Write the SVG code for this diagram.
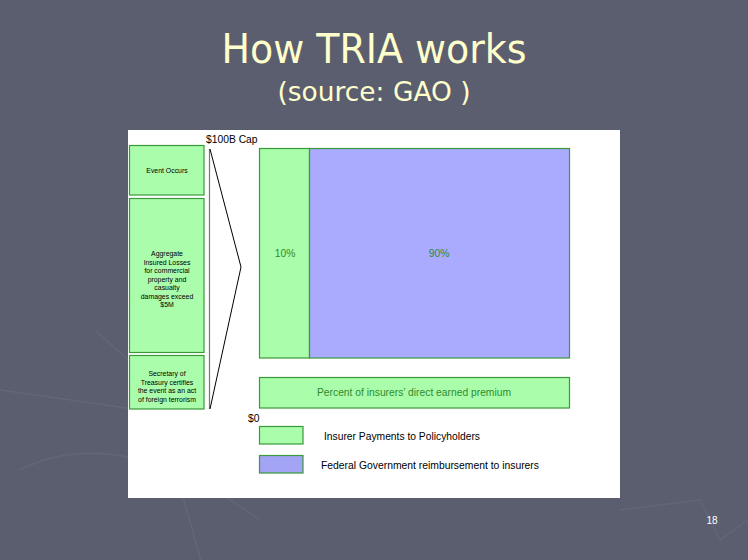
<svg xmlns="http://www.w3.org/2000/svg" width="748" height="560" viewBox="0 0 748 560">
<style>
.g{fill:#aafdaa;stroke:#3a9a3a;stroke-width:1.2}
.b{fill:#aaaaff;stroke:#3a9a3a;stroke-width:1.2}
.s{font-family:"Liberation Sans",Arial,sans-serif;font-size:6.9px;fill:#000;text-anchor:middle}
.m{font-family:"Liberation Sans",Arial,sans-serif;font-size:10.3px;fill:#000}
.gt{font-family:"Liberation Sans",Arial,sans-serif;font-size:10.3px;fill:#2e8b2e;text-anchor:middle}
.t{font-family:"DejaVu Sans Condensed","DejaVu Sans",sans-serif;fill:#ffffcc;text-anchor:middle}
</style>
<rect width="748" height="560" fill="#5b5e6f"/>
<g fill="none" stroke="#636676" stroke-width="1.5">
<path d="M95 330 L150 380 L215 610"/>
<path d="M20 470 Q120 420 260 520"/>
<path d="M0 390 L140 410"/>
<path d="M620 510 L700 500 L720 540 L748 520"/>
</g>
<g id="title">
<text class="t" x="374" y="63" font-size="40" textLength="305" lengthAdjust="spacingAndGlyphs">How TRIA works</text>
<text class="t" x="374" y="101" font-size="27" textLength="193" lengthAdjust="spacingAndGlyphs">(source: GAO )</text>
</g>
<rect x="128" y="130" width="492" height="368" fill="#ffffff"/>
<g id="event">
<rect class="g" x="129.5" y="145.5" width="74.5" height="49.5"/>
<text class="s" x="167" y="173">Event Occurs</text>
</g>
<g id="aggregate">
<rect class="g" x="129.5" y="198.5" width="74.5" height="154"/>
<text class="s"><tspan x="167" y="256">Aggregate</tspan><tspan x="167" y="264.5">Insured Losses</tspan><tspan x="167" y="273">for commercial</tspan><tspan x="167" y="281.5">property and</tspan><tspan x="167" y="290">casualty</tspan><tspan x="167" y="298.5">damages exceed</tspan><tspan x="167" y="307">$5M</tspan></text>
</g>
<g id="secretary">
<rect class="g" x="129.5" y="355.5" width="74.5" height="53.5"/>
<text class="s"><tspan x="167" y="376">Secretary of</tspan><tspan x="167" y="384.5">Treasury certifies</tspan><tspan x="167" y="393">the event as an act</tspan><tspan x="167" y="401.5">of foreign terrorism</tspan></text>
</g>
<g id="connectors" fill="none">
<line x1="209.5" y1="149" x2="209.5" y2="409" stroke="#777777" stroke-width="1.2"/>
<polyline points="210,149 241,267 210,409" stroke="#000" stroke-width="1"/>
</g>
<g id="cap"><text class="m" x="206" y="143">$100B Cap</text></g>
<g id="zero"><text class="m" x="248" y="422">$0</text></g>
<g id="insurer10">
<rect class="g" x="259.5" y="148.5" width="50" height="209.5"/>
<text class="gt" x="285" y="257">10%</text>
</g>
<g id="federal90">
<rect class="b" x="309.5" y="148.5" width="260" height="209.5"/>
<text class="gt" x="439" y="257">90%</text>
</g>
<g id="premium">
<rect class="g" x="259.5" y="377.5" width="310" height="30.5"/>
<text class="gt" x="414" y="396" textLength="194" lengthAdjust="spacingAndGlyphs">Percent of insurers’ direct earned premium</text>
</g>
<g id="legend-green">
<rect class="g" x="259.5" y="426.5" width="43.5" height="17.5"/>
<text class="m" x="324" y="440" textLength="156" lengthAdjust="spacingAndGlyphs">Insurer Payments to Policyholders</text>
</g>
<g id="legend-blue">
<rect class="b" x="259.5" y="455.5" width="43.5" height="17.5" style="fill:#a4a4f4"/>
<text class="m" x="321" y="469" textLength="218" lengthAdjust="spacingAndGlyphs">Federal Government reimbursement to insurers</text>
</g>
<text x="712" y="524" font-family="Liberation Sans,Arial,sans-serif" font-size="10" fill="#ffffff" text-anchor="middle">18</text>
</svg>
